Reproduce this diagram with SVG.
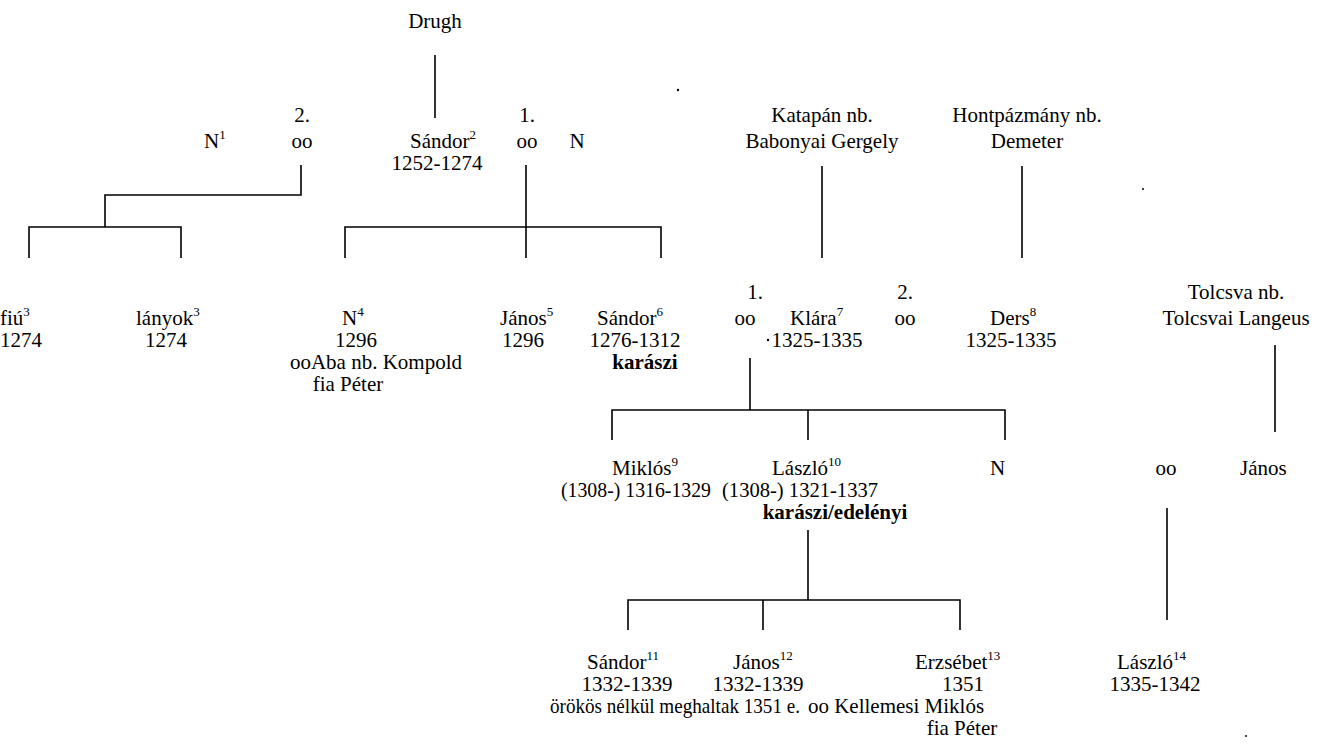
<svg xmlns="http://www.w3.org/2000/svg" width="1325" height="756" viewBox="0 0 1325 756" font-family="'Liberation Serif', 'DejaVu Serif', serif" font-size="21">
<style>
text{font-family:'Liberation Serif','DejaVu Serif',serif;font-size:21px;fill:#000}
.m{text-anchor:middle}
.b{font-weight:bold}
.sup{font-size:13px}
.ln{stroke:#000;stroke-width:1.6;fill:none}
</style>
<rect width="1325" height="756" fill="#fff"/>
<g id="connectors" class="ln">
<path d="M435 55V118"/>
<path d="M301 165V195H105V227M29 258V227H181V258"/>
<path d="M526 165V258M345 258V227H661V258"/>
<path d="M822 166V258"/>
<path d="M1022 166V258"/>
<path d="M750 358V410M612 440V410H1005V440M808 410V440"/>
<path d="M1275 345V432"/>
<path d="M808 530V600M628 630V600H960V630M763 600V630"/>
<path d="M1167 508V620"/>
</g>
<g id="n-drugh"><text class="m" x="435" y="28">Drugh</text></g>
<g id="n-n1"><text x="204" y="148">N<tspan class="sup" dy="-9">1</tspan></text></g>
<g id="m-2"><text class="m" x="302" y="122">2.</text><text class="m" x="302" y="148">oo</text></g>
<g id="n-sandor2"><text x="410" y="148">Sándor<tspan class="sup" dy="-9">2</tspan></text><text class="m" x="437" y="170">1252-1274</text></g>
<g id="m-1"><text class="m" x="527" y="122">1.</text><text class="m" x="527" y="148">oo</text></g>
<g id="n-n"><text class="m" x="577" y="148">N</text></g>
<g id="n-katapan"><text class="m" x="822" y="122">Katapán nb.</text><text class="m" x="822" y="148">Babonyai Gergely</text></g>
<g id="n-hont"><text class="m" x="1027" y="122">Hontpázmány nb.</text><text class="m" x="1027" y="148">Demeter</text></g>
<g id="n-fiu"><text x="0" y="325">fiú<tspan class="sup" dy="-9">3</tspan></text><text x="0" y="347">1274</text></g>
<g id="n-lanyok"><text x="136" y="325">lányok<tspan class="sup" dy="-9">3</tspan></text><text class="m" x="166" y="347">1274</text></g>
<g id="n-n4"><text x="342" y="325">N<tspan class="sup" dy="-9">4</tspan></text><text class="m" x="356" y="347">1296</text><text class="m" x="376" y="369">ooAba nb. Kompold</text><text class="m" x="348" y="391">fia Péter</text></g>
<g id="n-janos5"><text x="500" y="325">János<tspan class="sup" dy="-9">5</tspan></text><text class="m" x="523" y="347">1296</text></g>
<g id="n-sandor6"><text x="597" y="325">Sándor<tspan class="sup" dy="-9">6</tspan></text><text class="m" x="635" y="347">1276-1312</text><text class="b m" x="645" y="369">karászi</text></g>
<g id="m-k1"><text class="m" x="755" y="299">1.</text><text class="m" x="745" y="325">oo</text></g>
<g id="n-klara"><text x="790" y="325">Klára<tspan class="sup" dy="-9">7</tspan></text><circle cx="768" cy="340" r="1.2" fill="#000"/><text class="m" x="817" y="347">1325-1335</text></g>
<g id="m-k2"><text class="m" x="905" y="299">2.</text><text class="m" x="905" y="325">oo</text></g>
<g id="n-ders"><text x="990" y="325">Ders<tspan class="sup" dy="-9">8</tspan></text><text class="m" x="1011" y="347">1325-1335</text></g>
<g id="n-tolcsva"><text class="m" x="1236" y="299">Tolcsva nb.</text><text class="m" x="1236" y="325">Tolcsvai Langeus</text></g>
<g id="n-miklos9"><text x="612" y="475">Miklós<tspan class="sup" dy="-9">9</tspan></text><text class="m" x="636" y="497" textLength="150" lengthAdjust="spacingAndGlyphs">(1308-) 1316-1329</text></g>
<g id="n-laszlo10"><text x="772" y="475">László<tspan class="sup" dy="-9">10</tspan></text><text class="m" x="800" y="497" textLength="156" lengthAdjust="spacingAndGlyphs">(1308-) 1321-1337</text><text class="b m" x="835" y="519">karászi/edelényi</text></g>
<g id="n-n2"><text x="990" y="475">N</text></g>
<g id="m-t"><text class="m" x="1166" y="475">oo</text></g>
<g id="n-janos"><text x="1240" y="475">János</text></g>
<g id="n-sandor11"><text x="587" y="669">Sándor<tspan class="sup" dy="-9">11</tspan></text><text class="m" x="627" y="691">1332-1339</text></g>
<g id="n-janos12"><text x="733" y="669">János<tspan class="sup" dy="-9">12</tspan></text><text class="m" x="758" y="691">1332-1339</text></g>
<g id="n-note"><text class="m" x="675" y="713" textLength="250" lengthAdjust="spacingAndGlyphs">örökös nélkül meghaltak 1351 e.</text></g>
<g id="n-erzsebet13"><text x="915" y="669">Erzsébet<tspan class="sup" dy="-9">13</tspan></text><text class="m" x="963" y="691">1351</text><text class="m" x="896" y="713">oo Kellemesi Miklós</text><text class="m" x="962" y="735">fia Péter</text></g>
<g id="n-laszlo14"><text x="1117" y="669">László<tspan class="sup" dy="-9">14</tspan></text><text class="m" x="1155" y="691">1335-1342</text></g>
<g id="specks" fill="#000"><circle cx="678" cy="90" r="1.2"/><circle cx="1143" cy="189" r="1"/><circle cx="1246" cy="736" r="1"/></g>
</svg>
